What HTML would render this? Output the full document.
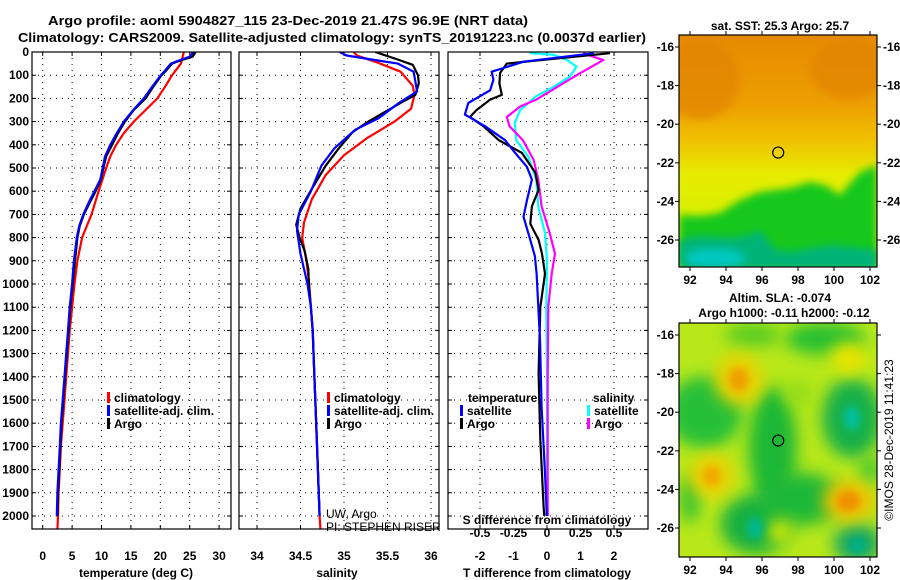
<!DOCTYPE html>
<html><head><meta charset="utf-8"><style>
html,body{margin:0;padding:0;background:#fff;}
svg{display:block;font-family:"Liberation Sans",sans-serif;}
.t{font-weight:bold;font-size:12.5px;fill:#000;}
.lab{font-weight:bold;font-size:12px;fill:#000;}
</style></head><body>
<svg id="c" width="900" height="580" viewBox="0 0 900 580" xmlns="http://www.w3.org/2000/svg">
<defs>
<clipPath id="cp1"><rect x="32" y="52" width="199" height="477"/></clipPath>
<clipPath id="cp2"><rect x="239" y="52" width="200" height="477"/></clipPath>
<clipPath id="cp3"><rect x="448" y="52" width="200" height="477"/></clipPath>
<clipPath id="cm1"><rect x="679" y="35" width="198" height="232"/></clipPath>
<clipPath id="cm2"><rect x="679" y="323" width="198" height="234"/></clipPath>
<filter id="bl" x="-50%" y="-50%" width="200%" height="200%"><feGaussianBlur stdDeviation="8"/></filter>
<filter id="bl2" x="-50%" y="-50%" width="200%" height="200%"><feGaussianBlur stdDeviation="4"/></filter>
<linearGradient id="sst" x1="0" y1="0" x2="0" y2="1">
<stop offset="0" stop-color="#e68a00"/><stop offset="0.3" stop-color="#eda000"/><stop offset="0.45" stop-color="#f0c000"/><stop offset="0.6" stop-color="#e6ec00"/><stop offset="0.8" stop-color="#d8f000"/><stop offset="1" stop-color="#c8f000"/>
</linearGradient>
</defs>
<text class="t" x="48" y="25" textLength="480" lengthAdjust="spacingAndGlyphs">Argo profile: aoml 5904827_115 23-Dec-2019 21.47S 96.9E (NRT data)</text>
<text class="t" x="18" y="42" textLength="628" lengthAdjust="spacingAndGlyphs">Climatology: CARS2009. Satellite-adjusted climatology: synTS_20191223.nc (0.0037d earlier)</text>
<g id="g"></g>
</svg>
<script>
// ---- data ----
const depthTicks=[0,100,200,300,400,500,600,700,800,900,1000,1100,1200,1300,1400,1500,1600,1700,1800,1900,2000];
const tempTicks=[0,5,10,15,20,25,30];
const salTicks=[34,34.5,35,35.5,36];
const salTickLabels=["34","34.5","35","35.5","36"];
const dTTicks=[-2,-1,0,1,2];
const dSTicks=[-0.5,-0.25,0,0.25,0.5];
const dSTickLabels=["-0.5","-0.25","0","0.25","0.5"];

const tArgoD=[0,20,40,50,80,100,150,200,250,300,350,400,450,500,550,600,650,700,750,800,900,1000,1100,1200,1300,1400,1500,1600,1700,1800,1900,2000];
const tArgoV=[26,25.5,23,22,21,20.2,18.8,17.5,15.5,14,12.8,11.8,10.8,10.3,9.9,9,8,7,6.3,5.9,5.5,5.1,4.7,4.4,4.1,3.8,3.5,3.2,3.0,2.8,2.6,2.5];
const tSatD=[0,20,40,50,80,100,150,200,250,300,350,400,450,500,550,600,650,700,750,800,900,1000,1100,1200,1300,1400,1500,1600,1700,1800,1900,2000];
const tSatV=[25.6,25,22.8,21.8,20.8,20.1,18.6,17.2,15.4,13.8,12.6,11.5,10.6,10.2,9.8,8.8,7.8,6.9,6.2,5.8,5.3,5.0,4.6,4.3,4.0,3.7,3.4,3.1,2.9,2.7,2.5,2.4];
const tClimD=[0,50,100,150,200,250,300,350,400,450,500,600,700,800,900,1000,1100,1200,1300,1400,1500,1600,1700,1800,1900,2000,2060];
const tClimV=[24,23.5,22,20.8,19.5,17.5,15.5,13.8,12.5,11.5,10.8,9.5,8.3,6.7,5.9,5.4,5.0,4.6,4.3,4.0,3.7,3.4,3.1,2.9,2.7,2.6,2.5];

const sArgoD=[0,30,55,100,135,185,215,265,300,345,415,490,590,675,745,800,860,935,1020,1100,1200,1400,1600,1800,2000];
const sArgoV=[35.36,35.6,35.79,35.85,35.86,35.82,35.67,35.44,35.28,35.1,34.94,34.79,34.63,34.5,34.45,34.49,34.55,34.59,34.6,34.62,34.64,34.66,34.68,34.7,34.72];
const sSatD=[0,15,30,50,85,170,220,285,335,415,490,600,700,770,870,1000,1100,1200,1400,1600,1800,2000];
const sSatV=[34.95,35.03,35.28,35.62,35.8,35.84,35.63,35.4,35.13,34.89,34.74,34.62,34.48,34.46,34.5,34.58,34.62,34.64,34.66,34.68,34.7,34.72];
const sClimD=[0,15,45,85,145,185,245,300,370,445,530,635,735,800,905,1000,1100,1200,1400,1600,1800,2000,2060];
const sClimV=[35.11,35.15,35.38,35.65,35.79,35.81,35.77,35.58,35.27,35.0,34.79,34.63,34.54,34.52,34.57,34.6,34.62,34.64,34.66,34.68,34.7,34.72,34.73];

const dTArgoD=[5,35,50,90,135,185,205,250,280,320,380,435,520,595,665,740,810,870,955,1100,1385,1670,1960,2000];
const dTArgoV=[1.88,-0.2,-1.2,-1.4,-1.42,-1.35,-1.7,-2.1,-2.3,-1.9,-1.44,-0.75,-0.35,-0.25,-0.45,-0.5,-0.25,-0.15,-0.06,-0.2,-0.25,-0.2,-0.1,-0.08];
const dTSatD=[5,42,85,120,165,220,270,320,380,435,495,550,640,710,810,880,955,1240,1530,1815,1990,2000];
const dTSatV=[1.4,-0.7,-1.65,-1.6,-1.7,-2.35,-2.45,-1.85,-1.25,-0.95,-0.6,-0.45,-0.6,-0.7,-0.5,-0.36,-0.31,-0.21,-0.16,-0.06,-0.01,0];
const dSArgoD=[5,35,90,135,165,205,235,280,320,380,465,550,665,780,870,955,1100,1400,1700,2000];
const dSArgoV=[0.27,0.42,0.25,0.12,0.035,-0.08,-0.2,-0.3,-0.28,-0.18,-0.1,-0.065,-0.04,0.02,0.06,0.035,0.01,0.005,0.005,0.005];
const dSSatD=[5,12,35,63,106,150,190,250,307,380,450,550,665,780,900,1100,1400,1700,2000];
const dSSatV=[-0.13,0.05,0.15,0.22,0.17,0.05,-0.08,-0.2,-0.24,-0.23,-0.14,-0.08,-0.065,-0.015,0,-0.005,0,0,0];

// ---- axes ----
const NS="http://www.w3.org/2000/svg";
const G=document.getElementById('g');
function mk(tag,attrs,parent){const e=document.createElementNS(NS,tag);for(const k in attrs)e.setAttribute(k,attrs[k]);(parent||G).appendChild(e);return e;}
const yD=d=>52+d*0.232;
const xT=t=>42.7+t*5.88;
const xS=s=>257+(s-34)*87;
const xdT=t=>547+t*33.5;
const xdS=s=>547+s*134;

function panel(name,x0,x1,clip){
  const g=mk('g',{});
  
  
  depthTicks.forEach(d=>{
    const y=yD(d);
    mk('line',{x1:x0,x2:x1,y1:y,y2:y,stroke:'#000','stroke-width':1,'stroke-dasharray':'1,5'},g);
    mk('line',{x1:x0,x2:x0+4,y1:y,y2:y,stroke:'#000'},g);
    mk('line',{x1:x1-4,x2:x1,y1:y,y2:y,stroke:'#000'},g);
  });
  return g;
}
function vgrid(g,xs,x){xs.forEach(v=>{const X=x(v);mk('line',{x1:X,x2:X,y1:52,y2:529,stroke:'#000','stroke-dasharray':'1,5'},g);mk('line',{x1:X,x2:X,y1:529,y2:525,stroke:'#000'},g);mk('line',{x1:X,x2:X,y1:52,y2:56,stroke:'#000'},g);});}
function frame(g,x0,x1){mk('rect',{x:x0,y:52,width:x1-x0,height:477,fill:'none',stroke:'#000','stroke-width':1.2},g);}
function line(g,D,V,xf,color,name,clip,w){
  let p='';D.forEach((d,i)=>{p+=(i?'L':'M')+xf(V[i]).toFixed(1)+','+yD(d).toFixed(1);});
  const e=mk('path',{d:p,fill:'none',stroke:color,'stroke-width':w||2.2,'clip-path':'url(#'+clip+')','stroke-linejoin':'round'},g);
  
  
}
function txt(g,x,y,s,anchor,name,cls){const e=mk('text',{x:x,y:y,'text-anchor':anchor||'middle',class:cls||'lab'},g);e.textContent=s;return e;}
function legend(g,x,y,color,label,name){
  mk('rect',{x:x,y:y-10,width:3,height:11,fill:color},g);
  txt(g,x+7,y,label,'start',name);
}

// Panel 1 temperature
const p1=panel('temperature-panel',32,231);
vgrid(p1,tempTicks,xT);
depthTicks.forEach(d=>txt(p1,29,yD(d)+4,String(d),'end','depth-tick-label'));
tempTicks.forEach(t=>txt(p1,xT(t),560,String(t),'middle','temp-tick-label'));
txt(p1,136,577,'temperature (deg C)','middle','temperature-axis-title');
line(p1,tClimD,tClimV,xT,'#ff0000','temp-climatology-line','cp1');
line(p1,tArgoD,tArgoV,xT,'#000000','temp-argo-line','cp1');
line(p1,tSatD,tSatV,xT,'#0000ff','temp-satellite-line','cp1');
legend(p1,107,402,'#ff0000','climatology','legend-climatology');
legend(p1,107,415,'#0000ff','satellite-adj. clim.','legend-satellite');
legend(p1,107,428,'#000000','Argo','legend-argo');
frame(p1,32,231);

// Panel 2 salinity
const p2=panel('salinity-panel',239,439);
vgrid(p2,salTicks,xS);
salTicks.forEach((s,i)=>txt(p2,xS(s),560,salTickLabels[i],'middle','salinity-tick-label'));
txt(p2,337,577,'salinity','middle','salinity-axis-title');
line(p2,sClimD,sClimV,xS,'#ff0000','sal-climatology-line','cp2');
line(p2,sArgoD,sArgoV,xS,'#000000','sal-argo-line','cp2');
line(p2,sSatD,sSatV,xS,'#0000ff','sal-satellite-line','cp2');
legend(p2,327,402,'#ff0000','climatology','legend-climatology');
legend(p2,327,415,'#0000ff','satellite-adj. clim.','legend-satellite');
legend(p2,327,428,'#000000','Argo','legend-argo');
const c1=txt(p2,326,518,'UW, Argo','start','credit-uw-argo');c1.setAttribute('style','font-weight:normal;font-size:12px');
const c2=txt(p2,326,531,'PI: STEPHEN RISER','start','credit-pi');c2.setAttribute('style','font-weight:normal;font-size:12px');
frame(p2,239,439);

// Panel 3 differences
const p3=panel('difference-panel',448,648);
vgrid(p3,dTTicks.filter(v=>v%2===0),xdT);
dTTicks.forEach(t=>txt(p3,xdT(t),560,String(t),'middle','dT-tick-label'));
dSTicks.forEach((s,i)=>txt(p3,xdS(s),537,dSTickLabels[i],'middle','dS-tick-label'));
txt(p3,547,524,'S difference from climatology','middle','dS-axis-title');
txt(p3,547,577,'T difference from climatology','middle','dT-axis-title');
line(p3,dSSatD,dSSatV,xdS,'#00ffff','dS-satellite-line','cp3');
line(p3,dSArgoD,dSArgoV,xdS,'#ff00ff','dS-argo-line','cp3');
line(p3,dTArgoD,dTArgoV,xdT,'#000000','dT-argo-line','cp3');
line(p3,dTSatD,dTSatV,xdT,'#0000ff','dT-satellite-line','cp3');
txt(p3,468,402,'temperature','start','legend-temperature-heading');
legend(p3,460,415,'#0000ff','satellite','legend-dT-satellite');
legend(p3,460,428,'#000000','Argo','legend-dT-argo');
txt(p3,593,402,'salinity','start','legend-salinity-heading');
legend(p3,587,415,'#00ffff','satellite','legend-dS-satellite');
legend(p3,587,428,'#ff00ff','Argo','legend-dS-argo');
frame(p3,448,648);

// ---- maps ----
const lonTicks=[92,94,96,98,100,102];
const latTicks=[-16,-18,-20,-22,-24,-26];
const mx=lon=>690+(lon-92)*18;
const argoLon=96.9, argoLat=-21.47;
function mapAxes(g,top,rightLabels){
  const my=lat=>top+12+(-lat-16)*19.3;
  mk('rect',{x:679,y:top,width:198,height:(top===35?232:234),fill:'none',stroke:'#000','stroke-width':1.2},g);
  const bot=top+(top===35?232:234);
  lonTicks.forEach(l=>{mk('line',{x1:mx(l),x2:mx(l),y1:top,y2:top-4,stroke:'#000'},g);mk('line',{x1:mx(l),x2:mx(l),y1:bot,y2:bot+4,stroke:'#000'},g);txt(g,mx(l),bot+17,String(l),'middle','lon-tick-label');});
  latTicks.forEach(l=>{mk('line',{x1:675,x2:679,y1:my(l),y2:my(l),stroke:'#000'},g);mk('line',{x1:877,x2:881,y1:my(l),y2:my(l),stroke:'#000'},g);txt(g,674,my(l)+4,String(l),'end','lat-tick-label');if(rightLabels)txt(g,883,my(l)+4,String(l),'start','lat-tick-label');});
  const c=mk('circle',{cx:mx(argoLon),cy:my(argoLat),r:5.5,fill:'none',stroke:'#000','stroke-width':1.2},g);
  
  
}
// Map 1 SST
const m1=mk('g',{});


const m1c=mk('g',{'clip-path':'url(#cm1)'},m1);
mk('rect',{x:679,y:35,width:198,height:232,fill:'url(#sst)'},m1c);
mk('ellipse',{cx:700,cy:80,rx:40,ry:40,fill:'#e08000',opacity:0.6,filter:'url(#bl2)'},m1c);
mk('ellipse',{cx:850,cy:70,rx:40,ry:30,fill:'#e08000',opacity:0.6,filter:'url(#bl2)'},m1c);
mk('polygon',{points:'679,215 700,216 720,213 740,200 760,192 790,188 810,182 825,185 840,195 860,172 877,165 877,267 679,267',fill:'#14c81e',filter:'url(#bl2)'},m1c);
mk('polygon',{points:'679,240 700,236 730,238 750,235 760,230 775,250 790,252 830,245 877,250 877,270 679,270',fill:'#00b478',filter:'url(#bl2)'},m1c);
mk('ellipse',{cx:715,cy:258,rx:30,ry:10,fill:'#00c8c0',filter:'url(#bl2)'},m1c);
mapAxes(m1,35,true);
txt(m1,780,30,'sat. SST: 25.3 Argo: 25.7','middle','sst-map-title');

// Map 2 SLA
const m2=mk('g',{});


const m2c=mk('g',{'clip-path':'url(#cm2)'},m2);
mk('rect',{x:679,y:323,width:198,height:234,fill:'#b8e81a'},m2c);
const my2=lat=>335+(-lat-16)*19.3;
[[92.8,-20,38,36,'#28c038'],[96.6,-21.8,24,60,'#1cb834'],[101,-20.3,30,40,'#14b048'],[95.7,-25.8,36,30,'#14b040'],[98.2,-24.5,40,26,'#1cb838'],[101.3,-26.8,24,20,'#14a860'],[99.5,-16.2,40,16,'#28c030'],[95.5,-16,28,12,'#58cc20'],[92,-24.5,10,24,'#30c030'],[98,-19,14,12,'#90dc18'],[102,-23,10,14,'#40c430']].forEach(b=>{mk('ellipse',{cx:mx(b[0]),cy:my2(b[1]),rx:b[2],ry:b[3],fill:b[4],filter:'url(#bl)'},m2c);});
[[94.7,-18.3,24,26,'#e8d000'],[93.2,-23.3,22,22,'#ecd000'],[100.8,-24.6,26,20,'#f0c000'],[100.8,-17.2,18,16,'#e8e400'],[97,-26.2,12,12,'#e4f000']].forEach(b=>{mk('ellipse',{cx:mx(b[0]),cy:my2(b[1]),rx:b[2],ry:b[3],fill:b[4],filter:'url(#bl)'},m2c);});
[[94.7,-18.3,10,12,'#f0a000'],[93.2,-23.3,9,10,'#f0a800'],[100.8,-24.6,12,10,'#f09000']].forEach(b=>{mk('ellipse',{cx:mx(b[0]),cy:my2(b[1]),rx:b[2],ry:b[3],fill:b[4],filter:'url(#bl2)'},m2c);});
mk('ellipse',{cx:mx(101),cy:my2(-20.3),rx:8,ry:12,fill:'#00c0a0',filter:'url(#bl2)'},m2c);
mk('ellipse',{cx:mx(95.6),cy:my2(-26),rx:8,ry:11,fill:'#00b890',filter:'url(#bl2)'},m2c);
mk('ellipse',{cx:mx(101.3),cy:my2(-26.9),rx:8,ry:8,fill:'#00b088',filter:'url(#bl2)'},m2c);
mapAxes(m2,323,false);
txt(m2,780,302,'Altim. SLA: -0.074','middle','sla-map-title');
txt(m2,784,317,'Argo h1000: -0.11 h2000: -0.12','middle','sla-map-subtitle');
const imos=txt(m2,0,0,'©IMOS 28-Dec-2019 11:41:23','middle','imos-timestamp');
imos.setAttribute('transform','translate(893,440) rotate(-90)');
imos.setAttribute('style','font-weight:normal;font-size:12px');
</script>
</body></html>
